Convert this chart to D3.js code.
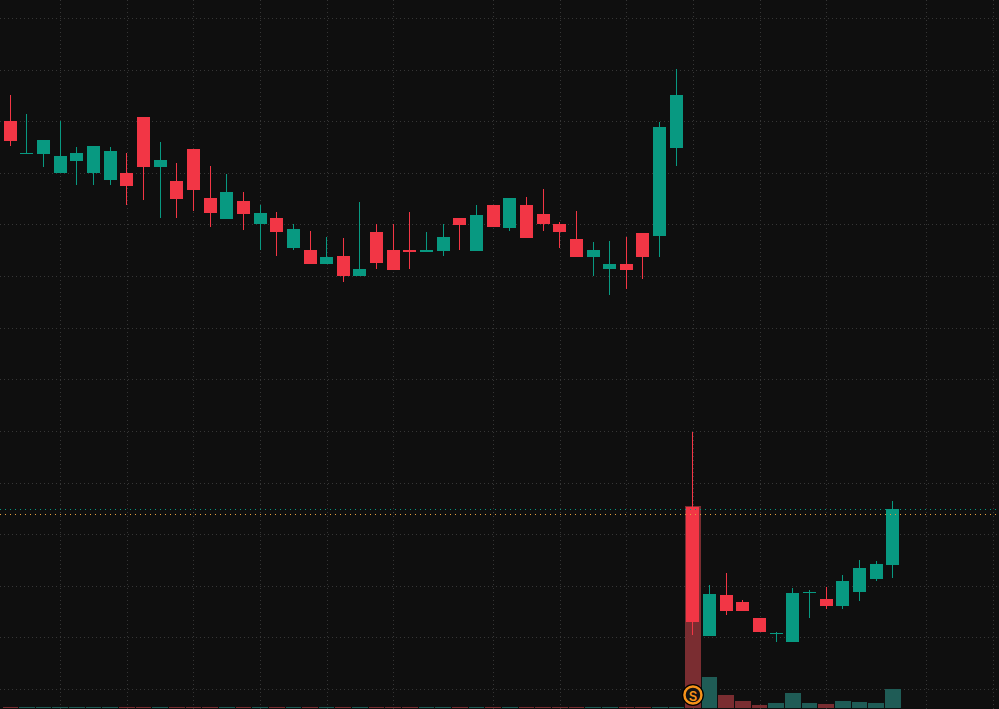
<!DOCTYPE html>
<html><head><meta charset="utf-8">
<script src="https://cdn.jsdelivr.net/npm/d3@7"></script>
<style>html,body{margin:0;padding:0;background:#0f0f0f;overflow:hidden}svg{display:block}</style>
</head><body><svg id="c" width="999" height="709"></svg>
<script>
// ---- data ----
const opens  = [11.00,10.36,10.37,10.00,10.23,10.00,9.86,10.00,11.08,10.11,9.84,10.46,9.51,9.11,9.45,9.01,9.13,8.54,8.51,8.23,
                8.39,8.00,8.85,8.51,8.51,8.47,8.49,9.13,8.49,9.38,8.93,9.38,9.20,9.01,8.72,8.37,8.14,8.23,8.83,8.78,
                10.48,3.53,1.03,1.82,1.69,1.38,1.07,0.91,1.86,1.74,1.61,1.88,2.13,2.40];
const highs  = [11.51,11.14,10.64,11.00,10.50,10.52,10.50,10.38,11.08,10.60,10.19,10.46,10.13,9.98,9.63,9.38,9.24,9.01,8.87,8.76,
                8.74,9.44,9.01,9.01,9.24,8.85,9.01,9.13,9.38,9.38,9.51,9.53,9.69,9.05,9.26,8.66,8.68,8.76,8.83,10.99,
                12.01,4.98,2.01,2.25,1.72,1.38,1.10,1.96,1.92,1.98,2.21,2.50,2.48,3.64];
const lows   = [10.52,10.36,10.11,10.00,9.76,9.76,9.76,9.38,9.47,9.13,9.13,9.26,8.95,9.11,8.89,8.51,8.39,8.51,8.23,8.23,
                7.89,8.00,8.14,8.12,8.14,8.47,8.39,8.51,8.49,8.95,8.87,8.74,8.87,8.54,8.37,8.00,7.63,7.75,7.94,8.37,
                10.13,1.05,1.03,1.43,1.51,1.10,0.91,0.91,1.38,1.55,1.55,1.70,2.09,2.15];
const closes = [10.62,10.38,10.64,10.33,10.38,10.52,10.42,9.75,10.11,10.25,9.49,9.67,9.22,9.63,9.20,9.22,8.85,8.91,8.23,8.37,
                8.00,8.14,8.25,8.12,8.47,8.51,8.76,8.99,9.18,8.95,9.51,8.74,9.01,8.85,8.37,8.51,8.23,8.12,8.37,10.89,
                11.51,1.30,1.84,1.51,1.51,1.10,1.08,1.86,1.87,1.61,2.09,2.34,2.42,3.49];
const volumes = [0.1,0.1,0.1,0.1,0.1,0.1,0.1,0.1,0.1,0.1,0.1,0.1,0.1,0.1,0.1,0.1,0.1,0.1,0.1,0.1,
                 0.1,0.1,0.1,0.1,0.1,0.1,0.1,0.1,0.1,0.1,0.1,0.1,0.1,0.1,0.1,0.1,0.1,0.1,0.1,0.1,
                 0.1,20.0,3.07,1.29,0.69,0.30,0.50,1.49,0.50,0.40,0.69,0.59,0.50,1.88];
const priceTicks = [0,1,2,3,4,5,6,7,8,9,10,11,12,13];
const timeTicks  = [3,7,11,15,19,23,29,33,37,41,45,49,55,59];
const lastPrice = 3.48;
const refPrice  = 3.40;
const markerBar = 41;
const markerLabel = "S";

// ---- style ----
const W = 999, H = 709;
const UP = "#089981", DOWN = "#f23645";
const VUP = "#1f5c56", VDOWN = "#7a2d31";
const GRID = "#363636";

const svg = d3.select("#c");
svg.append("rect").attr("width", W).attr("height", H).attr("fill", "#0f0f0f");

const x = d3.scaleLinear().domain([0, 59]).range([10.3, 992.65]);
const y = d3.scaleLinear().domain([0, 13]).range([689, 18]);
const v = d3.scaleLinear().domain([0, 20]).range([708, 506]);

const bars = d3.range(opens.length).map(i => ({i, o: opens[i], h: highs[i], l: lows[i], c: closes[i], vol: volumes[i]}));

// grid
const g = svg.append("g");
g.selectAll("line.h").data(priceTicks).join("line")
  .attr("x1", 0).attr("x2", W)
  .attr("y1", d => Math.round(y(d)) + 0.5).attr("y2", d => Math.round(y(d)) + 0.5)
  .attr("stroke", GRID).attr("stroke-dasharray", "1,3");
g.selectAll("line.v").data(timeTicks).join("line")
  .attr("y1", 0).attr("y2", H)
  .attr("x1", d => Math.round(x(d)) + 0.5).attr("x2", d => Math.round(x(d)) + 0.5)
  .attr("stroke", GRID).attr("stroke-dasharray", "1,3");

// volume
svg.append("g").selectAll("rect").data(bars).join("rect")
  .attr("x", d => Math.round(x(d.i) - 7.8))
  .attr("width", d => Math.round(x(d.i + 1) - 7.8) - Math.round(x(d.i) - 7.8) - 1)
  .attr("y", d => Math.min(Math.round(v(d.vol)), 707))
  .attr("height", d => v(0) - Math.min(Math.round(v(d.vol)), 707))
  .attr("fill", d => d.c >= d.o ? VUP : VDOWN);

// candles
const cg = svg.append("g");
cg.selectAll("rect.w").data(bars).join("rect")
  .attr("x", d => Math.round(x(d.i) - 6.5) + 6)
  .attr("width", 1)
  .attr("y", d => Math.round(y(d.h)))
  .attr("height", d => Math.max(1, Math.round(y(d.l)) - Math.round(y(d.h))))
  .attr("fill", d => d.c >= d.o ? UP : DOWN);
cg.selectAll("rect.b").data(bars).join("rect")
  .attr("x", d => Math.round(x(d.i) - 6.5))
  .attr("width", 13)
  .attr("y", d => Math.round(y(Math.max(d.o, d.c))))
  .attr("height", d => Math.max(1, Math.round(y(Math.min(d.o, d.c))) - Math.round(y(Math.max(d.o, d.c)))))
  .attr("fill", d => d.c >= d.o ? UP : DOWN);

// price lines
svg.append("line").attr("x1", 0).attr("x2", W)
  .attr("y1", Math.round(y(lastPrice)) + 0.5).attr("y2", Math.round(y(lastPrice)) + 0.5)
  .attr("stroke", UP).attr("stroke-dasharray", "1,4");
svg.append("line").attr("x1", 0).attr("x2", W)
  .attr("y1", Math.round(y(refPrice)) + 0.5).attr("y2", Math.round(y(refPrice)) + 0.5)
  .attr("stroke", "#e8a33d").attr("stroke-dasharray", "1,4");

// split marker
const mx = x(markerBar), my = 695;
svg.append("circle").attr("cx", mx).attr("cy", my).attr("r", 11).attr("fill", "#000");
svg.append("circle").attr("cx", mx).attr("cy", my).attr("r", 8.5).attr("fill", "#141414")
  .attr("stroke", "#f7931a").attr("stroke-width", 2.5);
svg.append("text").attr("x", mx).attr("y", my + 0.5)
  .attr("text-anchor", "middle").attr("dominant-baseline", "central")
  .attr("font-family", "Inter, 'DejaVu Sans', sans-serif").attr("font-size", 13).attr("font-weight", 600)
  .attr("fill", "#f7931a").text(markerLabel);
</script></body></html>
